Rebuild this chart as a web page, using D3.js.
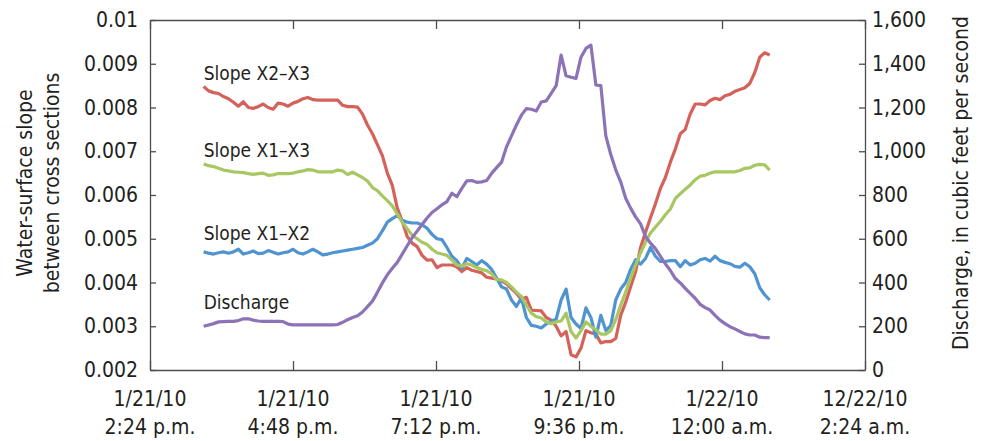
<!DOCTYPE html>
<html>
<head>
<meta charset="utf-8">
<script src="https://cdn.jsdelivr.net/npm/d3@7"></script>
<style>
  body { margin: 0; background: #fff; }
  text { font-family: "Liberation Sans Narrow", "DejaVu Sans Condensed", "Arial Narrow", sans-serif; fill: #231f20; }
</style>
</head>
<body>
<div id="graphique"></div>
<script>
//----------------------------------------------------------------
// donnees : une mesure toutes les 5 minutes a partir de 3:18 p.m.
//----------------------------------------------------------------
var debut = new Date(2010, 0, 21, 15, 18);
var pasMinutes = 5;

var slopeX2X3 = [
  0.00848, 0.00838, 0.00834, 0.00832, 0.00825, 0.00820, 0.00812, 0.00803, 0.00813, 0.00800,
  0.00798, 0.00802, 0.00808, 0.00800, 0.00796, 0.00810, 0.00808, 0.00803, 0.00810, 0.00814,
  0.00820, 0.00823, 0.00818, 0.00817, 0.00817, 0.00817, 0.00817, 0.00817, 0.00805, 0.00802,
  0.00802, 0.00801, 0.00785, 0.00760, 0.00740, 0.00715, 0.00690, 0.00650, 0.00622, 0.00570,
  0.00540, 0.00505, 0.00490, 0.00482, 0.00462, 0.00451, 0.00452, 0.00434, 0.00440, 0.00440,
  0.00440, 0.00436, 0.00425, 0.00434, 0.00428, 0.00425, 0.00422, 0.00412, 0.00410, 0.00408,
  0.00403, 0.00397, 0.00386, 0.00375, 0.00362, 0.00366, 0.00337, 0.00336, 0.00335, 0.00320,
  0.00314, 0.00300, 0.00278, 0.00288, 0.00235, 0.00230, 0.00250, 0.00290, 0.00285, 0.00282,
  0.00262, 0.00265, 0.00265, 0.00272, 0.00325, 0.00355, 0.00390, 0.00425, 0.00480, 0.00515,
  0.00548, 0.00580, 0.00615, 0.00640, 0.00675, 0.00705, 0.00740, 0.00750, 0.00785, 0.00808,
  0.00808, 0.00806, 0.00816, 0.00821, 0.00818, 0.00827, 0.00830, 0.00837, 0.00841, 0.00845,
  0.00855, 0.00880, 0.00915, 0.00925, 0.00920
];

var slopeX1X3 = [
  0.00671, 0.00667, 0.00665, 0.00661, 0.00657, 0.00655, 0.00653, 0.00652, 0.00651, 0.00649,
  0.00647, 0.00649, 0.00650, 0.00645, 0.00646, 0.00649, 0.00649, 0.00649, 0.00650, 0.00653,
  0.00655, 0.00658, 0.00657, 0.00653, 0.00653, 0.00653, 0.00653, 0.00657, 0.00655, 0.00647,
  0.00652, 0.00646, 0.00640, 0.00632, 0.00617, 0.00610, 0.00598, 0.00587, 0.00575, 0.00557,
  0.00538, 0.00523, 0.00508, 0.00500, 0.00492, 0.00487, 0.00476, 0.00468, 0.00465, 0.00462,
  0.00451, 0.00440, 0.00437, 0.00443, 0.00440, 0.00434, 0.00430, 0.00427, 0.00420, 0.00407,
  0.00406, 0.00400, 0.00390, 0.00378, 0.00368, 0.00348, 0.00330, 0.00322, 0.00319, 0.00310,
  0.00306, 0.00310, 0.00312, 0.00330, 0.00288, 0.00273, 0.00290, 0.00310, 0.00300, 0.00292,
  0.00282, 0.00282, 0.00290, 0.00315, 0.00348, 0.00378, 0.00410, 0.00440, 0.00468, 0.00492,
  0.00513, 0.00527, 0.00540, 0.00555, 0.00568, 0.00592, 0.00603, 0.00613, 0.00623, 0.00635,
  0.00643, 0.00645, 0.00650, 0.00653, 0.00653, 0.00653, 0.00653, 0.00653, 0.00656, 0.00661,
  0.00662, 0.00668, 0.00670, 0.00669, 0.00657
];

var slopeX1X2 = [
  0.00470, 0.00467, 0.00465, 0.00468, 0.00470, 0.00467, 0.00470, 0.00476, 0.00465, 0.00468,
  0.00472, 0.00466, 0.00467, 0.00473, 0.00469, 0.00465, 0.00468, 0.00470, 0.00476, 0.00468,
  0.00465, 0.00470, 0.00476, 0.00470, 0.00463, 0.00465, 0.00468, 0.00470, 0.00472, 0.00474,
  0.00476, 0.00478, 0.00480, 0.00485, 0.00490, 0.00500, 0.00518, 0.00538, 0.00546, 0.00553,
  0.00542, 0.00538, 0.00536, 0.00536, 0.00532, 0.00524, 0.00510, 0.00500, 0.00498, 0.00480,
  0.00460, 0.00450, 0.00432, 0.00455, 0.00448, 0.00440, 0.00450, 0.00442, 0.00430, 0.00410,
  0.00390, 0.00385, 0.00360, 0.00345, 0.00365, 0.00320, 0.00302, 0.00300, 0.00296, 0.00305,
  0.00312, 0.00316, 0.00360, 0.00385, 0.00320, 0.00305, 0.00295, 0.00342, 0.00320, 0.00275,
  0.00325, 0.00290, 0.00302, 0.00360, 0.00385, 0.00400, 0.00430, 0.00452, 0.00442, 0.00455,
  0.00480, 0.00460, 0.00448, 0.00448, 0.00450, 0.00450, 0.00436, 0.00450, 0.00440, 0.00444,
  0.00452, 0.00455, 0.00449, 0.00460, 0.00450, 0.00446, 0.00443, 0.00437, 0.00435, 0.00444,
  0.00436, 0.00420, 0.00388, 0.00372, 0.00360
];

var discharge = [
  200, 206, 212, 220, 221, 222, 222, 226, 234, 234,
  228, 224, 222, 222, 222, 222, 221, 210, 206, 206,
  206, 206, 206, 206, 206, 206, 206, 208, 218, 230,
  240, 248, 265, 290, 315, 355, 398, 435, 465, 492,
  530, 568, 605, 635, 665, 695, 720, 737, 755, 770,
  808, 792, 830, 865, 866, 858, 860, 866, 899, 925,
  950, 1020, 1070, 1120, 1165, 1195, 1192, 1184, 1225, 1230,
  1265, 1300, 1440, 1345, 1338, 1333, 1430, 1470, 1485, 1303,
  1300, 1070, 985, 915, 860, 785, 740, 700, 668, 610,
  580, 555, 520, 485, 455, 418, 398, 373, 350, 328,
  300, 285, 274, 250, 228, 212, 198, 188, 176, 165,
  160, 160, 150, 148, 148
];

var ticksSlope = [0.002, 0.003, 0.004, 0.005, 0.006, 0.007, 0.008, 0.009, 0.01];
var ticksDebit = [0, 200, 400, 600, 800, 1000, 1200, 1400, 1600];
var ticksDates = ["1/21/10", "1/21/10", "1/21/10", "1/21/10", "1/22/10", "12/22/10"];
var ticksHeures = ["2:24 p.m.", "4:48 p.m.", "7:12 p.m.", "9:36 p.m.", "12:00 a.m.", "2:24 a.m."];

//----------------------------------------------------------------
// crée le svg
//----------------------------------------------------------------
var largeur = 984, hauteur = 441;
var marge = {haut: 20, droite: 119, bas: 71, gauche: 150};
var svg = d3.select("#graphique")
  .append("svg")
  .attr("width", largeur)
  .attr("height", hauteur);

var x = d3.scaleTime()
  .domain([new Date(2010, 0, 21, 14, 24), new Date(2010, 0, 22, 2, 24)])
  .range([marge.gauche, largeur - marge.droite]);
var ySlope = d3.scaleLinear()
  .domain([0.002, 0.01])
  .range([hauteur - marge.bas, marge.haut]);
var yDebit = d3.scaleLinear()
  .domain([0, 1600])
  .range([hauteur - marge.bas, marge.haut]);

var ticksTemps = d3.range(6).map(function(i){ return d3.timeMinute.offset(x.domain()[0], 144 * i); });
function temps(i){ return d3.timeMinute.offset(debut, pasMinutes * i); }

//----------------------------------------------------------------
// axes (graduations vers l'interieur)
//----------------------------------------------------------------
var fmtSlope = function(d){ return d === 0.01 ? "0.01" : d3.format(".3f")(d); };

svg.append("g")
  .attr("transform", "translate(" + marge.gauche + ",0)")
  .call(d3.axisLeft(ySlope).tickValues(ticksSlope).tickFormat(fmtSlope)
        .tickSize(-6).tickSizeOuter(0).tickPadding(12));

svg.append("g")
  .attr("transform", "translate(" + (largeur - marge.droite) + ",0)")
  .call(d3.axisRight(yDebit).tickValues(ticksDebit).tickFormat(d3.format(","))
        .tickSize(-6).tickSizeOuter(0).tickPadding(7));

svg.append("g")
  .attr("transform", "translate(0," + (hauteur - marge.bas) + ")")
  .call(d3.axisBottom(x).tickValues(ticksTemps).tickFormat("")
        .tickSize(-9).tickSizeOuter(0));

svg.append("g")
  .attr("transform", "translate(0," + marge.haut + ")")
  .call(d3.axisTop(x).tickValues(ticksTemps).tickFormat("")
        .tickSize(-9).tickSizeOuter(0));

svg.selectAll(".domain, .tick line")
  .attr("stroke", "#4d4d4f")
  .attr("stroke-width", 1.3);
svg.selectAll(".tick text")
  .attr("font-size", "21px")
  .attr("font-family", null);

// libelles de dates sur deux lignes
var libellesX = svg.selectAll(".libX")
  .data(ticksTemps)
  .enter()
  .append("text")
  .attr("class", "libX")
  .attr("text-anchor", "middle")
  .attr("font-size", "21px")
  .attr("x", function(d){ return x(d); })
  .attr("y", 406);
libellesX.append("tspan")
  .attr("x", function(d){ return x(d); })
  .text(function(d, i){ return ticksDates[i]; });
libellesX.append("tspan")
  .attr("x", function(d){ return x(d); })
  .attr("dy", 28)
  .text(function(d, i){ return ticksHeures[i]; });

// titres des axes
var titreGauche = svg.append("text")
  .attr("transform", "translate(25,183) rotate(-90)")
  .attr("text-anchor", "middle")
  .attr("font-size", "21px");
titreGauche.append("tspan").attr("x", 0).attr("y", 7).text("Water-surface slope");
titreGauche.append("tspan").attr("x", 0).attr("y", 34).text("between cross sections");

svg.append("text")
  .attr("transform", "translate(968,183) rotate(-90)")
  .attr("text-anchor", "middle")
  .attr("font-size", "21px")
  .text("Discharge, in cubic feet per second");

//----------------------------------------------------------------
// courbes
//----------------------------------------------------------------
var ligneSlope = d3.line()
  .x(function(d, i){ return x(temps(i)); })
  .y(function(d){ return ySlope(d); });
var ligneDebit = d3.line()
  .x(function(d, i){ return x(temps(i)); })
  .y(function(d){ return yDebit(d); });

var courbes = [
  {nom: "Slope X2\u2013X3", valeurs: slopeX2X3, ligne: ligneSlope, couleur: "#d4625a", decalage: 7},
  {nom: "Slope X1\u2013X2", valeurs: slopeX1X2, ligne: ligneSlope, couleur: "#4f94d0", decalage: 12},
  {nom: "Slope X1\u2013X3", valeurs: slopeX1X3, ligne: ligneSlope, couleur: "#a8c762", decalage: 7},
  {nom: "Discharge",        valeurs: discharge, ligne: ligneDebit, couleur: "#8c72b6", decalage: 17}
];

svg.selectAll(".courbe")
  .data(courbes)
  .enter()
  .append("path")
  .attr("class", "courbe")
  .attr("fill", "none")
  .attr("stroke", function(d){ return d.couleur; })
  .attr("stroke-width", 3.2)
  .attr("stroke-linejoin", "round")
  .attr("d", function(d){ return d.ligne(d.valeurs); });

//----------------------------------------------------------------
// etiquettes des series, posees au-dessus du debut de chaque courbe
//----------------------------------------------------------------
svg.selectAll(".etiquette")
  .data(courbes)
  .enter()
  .append("text")
  .attr("class", "etiquette")
  .attr("font-size", "19px")
  .attr("x", x(debut))
  .attr("y", function(d){ return d.ligne.y()(d.valeurs[0]) - d.decalage; })
  .text(function(d){ return d.nom; });
</script>
</body>
</html>
